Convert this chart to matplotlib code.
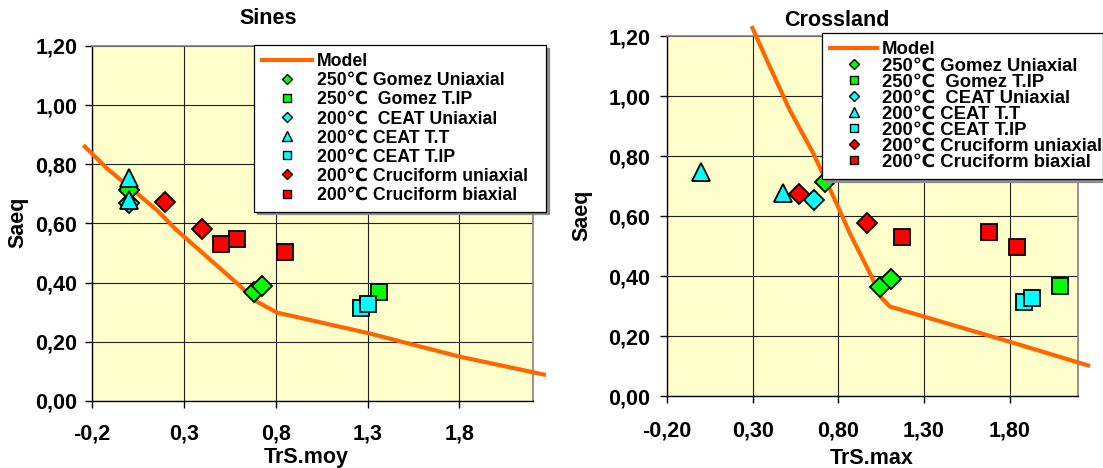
import matplotlib
matplotlib.use("Agg")
import matplotlib.pyplot as plt
from matplotlib.lines import Line2D
from matplotlib.ticker import FuncFormatter

plt.rcParams['font.family'] = ['Liberation Sans', 'DejaVu Sans']
plt.rcParams['font.weight'] = 'bold'

# --- Data ---
X_TICKS = [-0.2, 0.3, 0.8, 1.3, 1.8]
Y_TICKS = [0.0, 0.2, 0.4, 0.6, 0.8, 1.0, 1.2]

LABELS = ["250\u2103 Gomez Uniaxial", "250\u2103  Gomez T.IP", "200\u2103  CEAT Uniaxial",
          "200\u2103 CEAT T.T", "200\u2103 CEAT T.IP", "200\u2103 Cruciform uniaxial",
          "200\u2103 Cruciform biaxial"]

# Sines: Saeq vs TrS.moy
sines_model_x = [-0.247, -0.12, 0.152, 0.26, 0.589, 0.697, 0.806, 1.306, 1.80, 2.27]
sines_model_y = [0.865, 0.787, 0.646, 0.578, 0.398, 0.336, 0.299, 0.229, 0.15, 0.088]
sines_x = [
    [0.0, 0.679, 0.725],        # Gomez uniaxial
    [1.364],                    # Gomez T.IP
    [0.0],                      # CEAT uniaxial
    [0.0, 0.0],                 # CEAT T.T
    [1.266, 1.30],              # CEAT T.IP
    [0.198, 0.398],             # Cruciform uniaxial
    [0.501, 0.589, 0.85],       # Cruciform biaxial
]
sines_y = [
    [0.713, 0.37, 0.39],
    [0.37],
    [0.67],
    [0.754, 0.68],
    [0.315, 0.328],
    [0.674, 0.58],
    [0.531, 0.548, 0.504],
]

# Crossland: Saeq vs TrS.max
cross_model_x = [0.294, 0.40, 0.517, 0.654, 0.79, 0.868, 0.985, 1.054, 1.102, 1.8, 2.27]
cross_model_y = [1.233, 1.098, 0.953, 0.809, 0.642, 0.542, 0.409, 0.326, 0.298, 0.181, 0.10]
cross_x = [
    [0.722, 1.044, 1.108],
    [2.096],
    [0.66],
    [0.0, 0.478],
    [1.882, 1.931],
    [0.572, 0.966],
    [1.17, 1.683, 1.843],
]
cross_y = [
    [0.714, 0.364, 0.389],
    [0.368],
    [0.653],
    [0.748, 0.676],
    [0.314, 0.326],
    [0.673, 0.576],
    [0.531, 0.548, 0.498],
]

# --- Styles ---
GREEN, CYAN, RED = "#00FF00", "#00FFFF", "#FF0000"
ORANGE = "#FF6600"
MARKERS = ["D", "s", "D", "^", "s", "D", "s"]
COLORS = [GREEN, GREEN, CYAN, CYAN, CYAN, RED, RED]
SIZES = {"D": 10, "s": 11, "^": 13.5}
LEG_SIZES = {"D": 5.5, "s": 6, "^": 7}

W, H = 1103, 468
fig = plt.figure(figsize=(W / 100, H / 100), dpi=100)


def px_axes(left, top, right, bottom):
    return fig.add_axes([left / W, 1 - bottom / H, (right - left) / W, (bottom - top) / H])


def draw_panel(ax, mx, my, xs, ys, xdec, xpad, ypad):
    ax.set_facecolor("#FFFFCC")
    ax.plot(mx, my, color=ORANGE, lw=3, clip_on=False, zorder=3, solid_capstyle="butt")
    for i in range(len(xs)):
        m = MARKERS[i]
        ax.plot(xs[i], ys[i], ls="none", marker=m, ms=SIZES[m], mfc=COLORS[i],
                mec="black", mew=1.3, zorder=4, clip_on=False)
    ax.set_xlim(-0.2, 2.2)
    ax.set_ylim(0, 1.2)
    ax.set_xticks(X_TICKS)
    ax.set_yticks(Y_TICKS)
    ax.xaxis.set_major_formatter(FuncFormatter(lambda v, _: f"{v:.{xdec}f}".replace(".", ",")))
    ax.yaxis.set_major_formatter(FuncFormatter(lambda v, _: f"{v:.2f}".replace(".", ",")))
    ax.grid(True, color="#202020", lw=0.8, zorder=0)
    ax.set_axisbelow(True)
    ax.tick_params(axis="x", direction="out", length=5, width=1, pad=xpad, labelsize=15.5)
    ax.tick_params(axis="y", direction="out", length=5, width=1, pad=ypad, labelsize=15.5)
    for lab in ax.get_xticklabels() + ax.get_yticklabels():
        lab.set_fontweight("bold")
    for s in ("left", "bottom"):
        ax.spines[s].set_color("black")
        ax.spines[s].set_linewidth(1)
    for s in ("top", "right"):
        ax.spines[s].set_color("#808080")
        ax.spines[s].set_linewidth(1.2)


def add_legend(ax, x0, y0, x1, y1, spacing, size, hlen):
    handles = [Line2D([], [], color=ORANGE, lw=3)]
    for i in range(len(LABELS)):
        m = MARKERS[i]
        handles.append(Line2D([], [], ls="none", marker=m, ms=LEG_SIZES[m],
                              mfc=COLORS[i], mec="black", mew=1.0))
    box = (x0 / W, 1 - y1 / H, (x1 - x0) / W, (y1 - y0) / H)
    leg = ax.legend(handles, ["Model"] + LABELS, loc="upper left", mode="expand",
                    bbox_to_anchor=box, bbox_transform=fig.transFigure,
                    prop={"size": size, "weight": "bold"}, frameon=True, fancybox=False,
                    framealpha=1, edgecolor="black", handlelength=hlen, handletextpad=0.25,
                    labelspacing=spacing, borderpad=0.45, borderaxespad=0,
                    shadow={"color": "0.55", "alpha": 1})
    leg.get_frame().set_linewidth(0.9)
    leg.set_zorder(10)
    return leg


ax1 = px_axes(92, 46, 533, 401)
draw_panel(ax1, sines_model_x, sines_model_y, sines_x, sines_y, 1, 11, 5.5)
add_legend(ax1, 254, 45, 546, 212, 0.12, 12.7, 2.85)

ax2 = px_axes(667, 36, 1078, 396)
draw_panel(ax2, cross_model_x, cross_model_y, cross_x, cross_y, 2, 13, 7)
add_legend(ax2, 822, 33, 1103, 176, -0.05, 13.3, 2.55)

# Titles and axis labels
fig.text(268 / W, 1 - 18 / H, "Sines", ha="center", va="center", fontsize=15.5, fontweight="bold")
fig.text(837 / W, 1 - 20 / H, "Crossland", ha="center", va="center", fontsize=15.5, fontweight="bold")
fig.text(18 / W, 1 - 222 / H, "Saeq", ha="center", va="center", rotation=90, fontsize=15.5, fontweight="bold")
fig.text(582 / W, 1 - 215 / H, "Saeq", ha="center", va="center", rotation=90, fontsize=15.5, fontweight="bold")
fig.text(306 / W, 1 - 458 / H, "TrS.moy", ha="center", va="center", fontsize=15.5, fontweight="bold")
fig.text(872 / W, 1 - 458 / H, "TrS.max", ha="center", va="center", fontsize=15.5, fontweight="bold")

fig.savefig("out.png", dpi=100)
